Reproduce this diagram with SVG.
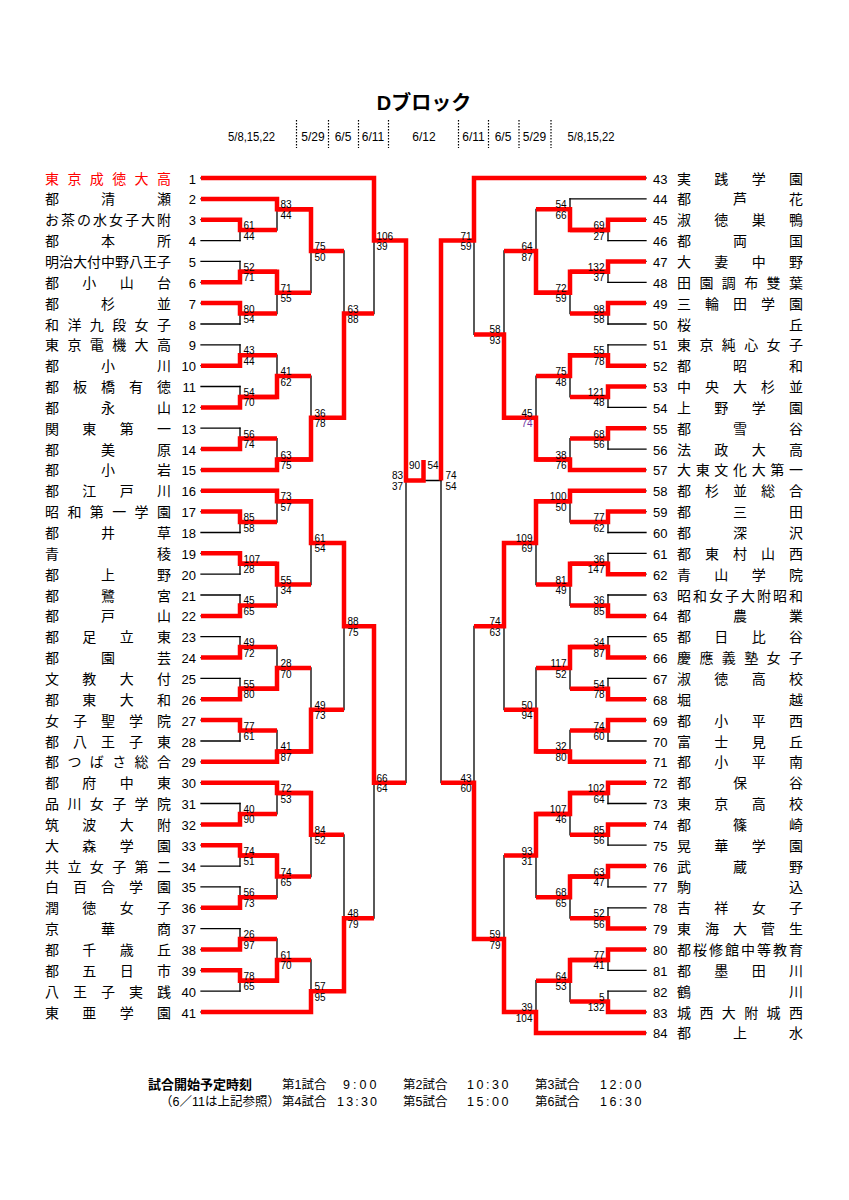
<svg xmlns="http://www.w3.org/2000/svg" width="849" height="1200" viewBox="0 0 849 1200">
<style>
.bg{fill:#fff}
.k{stroke:#000;stroke-width:1.3;fill:none;stroke-linecap:square}
.dot{stroke:#000;stroke-width:1.2;stroke-dasharray:1.5 1.5;fill:none}
.r{stroke:#f00;stroke-width:4.5;fill:none;stroke-linejoin:miter;stroke-linecap:butt}
.nm{font-family:"Noto Sans CJK JP","Noto Sans CJK SC",sans-serif;font-size:14px;fill:#000}
.red{fill:#f00}
.no{font-family:"Liberation Sans",Arial,sans-serif;font-size:13px;fill:#000}
.ln{text-anchor:end}
.sc{font-family:"Liberation Sans",Arial,sans-serif;font-size:10px;fill:#000}
.e{text-anchor:end}
.pu{fill:#7030a0}
.ttl{font-family:"Liberation Sans","Noto Sans CJK JP",sans-serif;font-size:20px;font-weight:bold;text-anchor:middle}
.dt{font-family:"Liberation Sans",Arial,sans-serif;font-size:12px;text-anchor:middle}
.ft{font-family:"Liberation Sans","Noto Sans CJK JP",sans-serif;font-size:12.5px}
.fb{font-weight:bold;font-size:13px}
</style>
<rect class="bg" x="0" y="0" width="849" height="1200"/>
<g id="header">
<text class="ttl" x="424" y="110">Dブロック</text>
<text class="dt" x="251.5" y="141" textLength="47" lengthAdjust="spacingAndGlyphs">5/8,15,22</text>
<text class="dt" x="313" y="141">5/29</text>
<text class="dt" x="343" y="141">6/5</text>
<text class="dt" x="373" y="141">6/11</text>
<text class="dt" x="424" y="141">6/12</text>
<text class="dt" x="473.5" y="141">6/11</text>
<text class="dt" x="503" y="141">6/5</text>
<text class="dt" x="534.5" y="141">5/29</text>
<text class="dt" x="591" y="141" textLength="47" lengthAdjust="spacingAndGlyphs">5/8,15,22</text>
<path class="dot" d="M296.5,120V148M328.5,120V148M358.5,120V148M388.5,120V148M458.5,120V148M488.5,120V148M519,120V148M551,120V148"/>
</g>
<g id="connectors">
<path class="k" d="M201,178H374M201,198.9H277M201,219.7H240M201,240.6H240M201,261.4H240M201,282.3H240M201,303.1H240M201,324H240M201,344.8H240M201,365.7H240M201,386.5H240M201,407.4H240M201,428.2H240M201,449.1H240M201,469.9H277M201,490.8H277M201,511.6H240M201,532.5H240M201,553.3H240M201,574.2H240M201,595H240M201,615.9H240M201,636.7H240M201,657.6H240M201,678.4H240M201,699.3H240M201,720.1H240M201,741H240M201,761.8H277M201,782.7H277M201,803.5H240M201,824.4H240M201,845.2H240M201,866.1H240M201,886.9H240M201,907.8H240M201,928.6H240M201,949.5H240M201,970.3H240M201,991.2H240M201,1012H311"/>
<path class="k" d="M240,219.7V240.6M240,261.4V282.3M240,303.1V324M240,344.8V365.7M240,386.5V407.4M240,428.2V449.1M240,511.6V532.5M240,553.3V574.2M240,595V615.9M240,636.7V657.6M240,678.4V699.3M240,720.1V741M240,803.5V824.4M240,845.2V866.1M240,886.9V907.8M240,928.6V949.5M240,970.3V991.2M277,198.9V230.1M277,271.8V313.5M277,355.2V396.9M277,438.6V469.9M277,490.8V522M277,563.7V605.4M277,647.1V688.8M277,730.5V761.8M277,782.7V813.9M277,855.6V897.3M277,939V980.7M311,209.3V292.7M311,376.1V459.5M311,501.2V584.6M311,668V751.4M311,793.1V876.5M311,959.9V1012M344,251V417.8M344,542.9V709.7M344,834.8V991.2M374,178V313.5M374,626.3V918.2M406,240.6V782.7M406,480.5H441"/>
<path class="k" d="M646,178H474M646,198.9H570M646,219.7H608M646,240.6H608M646,261.4H608M646,282.3H608M646,303.1H608M646,324H608M646,344.8H608M646,365.7H608M646,386.5H608M646,407.4H608M646,428.2H608M646,449.1H608M646,469.9H570M646,490.8H570M646,511.6H608M646,532.5H608M646,553.3H608M646,574.2H608M646,595H608M646,615.9H608M646,636.7H608M646,657.6H608M646,678.4H608M646,699.3H608M646,720.1H608M646,741H608M646,761.8H570M646,782.7H608M646,803.5H608M646,824.4H608M646,845.2H608M646,866.1H608M646,886.9H608M646,907.8H608M646,928.6H608M646,949.5H608M646,970.3H608M646,991.2H608M646,1012H608M646,1032.9H536"/>
<path class="k" d="M608,219.7V240.6M608,261.4V282.3M608,303.1V324M608,344.8V365.7M608,386.5V407.4M608,428.2V449.1M608,511.6V532.5M608,553.3V574.2M608,595V615.9M608,636.7V657.6M608,678.4V699.3M608,720.1V741M608,782.7V803.5M608,824.4V845.2M608,866.1V886.9M608,907.8V928.6M608,949.5V970.3M608,991.2V1012M570,198.9V230.1M570,271.8V313.5M570,355.2V396.9M570,438.6V469.9M570,490.8V522M570,563.7V605.4M570,647.1V688.8M570,730.5V761.8M570,793.1V834.8M570,876.5V918.2M570,959.9V1001.6M536,209.3V292.7M536,376.1V459.5M536,501.2V584.6M536,668V751.4M536,813.9V897.3M536,980.7V1032.9M504,251V417.8M504,542.9V709.7M504,855.6V1012M474,178V334.4M474,626.3V939M441,240.6V782.7"/>
<path class="r" d="M201,219.7H240V230.1H277M201,282.3H240V271.8H277M201,303.1H240V313.5H277M201,365.7H240V355.2H277M201,407.4H240V396.9H277M201,449.1H240V438.6H277M201,511.6H240V522H277M201,553.3H240V563.7H277M201,615.9H240V605.4H277M201,657.6H240V647.1H277M201,699.3H240V688.8H277M201,720.1H240V730.5H277M201,824.4H240V813.9H277M201,845.2H240V855.6H277M201,907.8H240V897.3H277M201,949.5H240V939H277M201,970.3H240V980.7H277"/>
<path class="r" d="M201,198.9H277V209.3H311M240,271.8H277V292.7H311M240,396.9H277V376.1H311M201,469.9H277V459.5H311M201,490.8H277V501.2H311M240,563.7H277V584.6H311M240,688.8H277V668H311M201,761.8H277V751.4H311M201,782.7H277V793.1H311M240,855.6H277V876.5H311M240,980.7H277V959.9H311"/>
<path class="r" d="M277,209.3H311V251H344M277,459.5H311V417.8H344M277,501.2H311V542.9H344M277,751.4H311V709.7H344M277,793.1H311V834.8H344M201,1012H311V991.2H344M311,417.8H344V313.5H374M311,542.9H344V626.3H374M311,991.2H344V918.2H374M201,178H374V240.6H406M344,626.3H374V782.7H406M374,240.6H406V480.5H423.5V460"/>
<path class="r" d="M646,219.7H608V230.1H570M646,261.4H608V271.8H570M646,303.1H608V313.5H570M646,365.7H608V355.2H570M646,386.5H608V396.9H570M646,428.2H608V438.6H570M646,511.6H608V522H570M646,574.2H608V563.7H570M646,615.9H608V605.4H570M646,657.6H608V647.1H570M646,699.3H608V688.8H570M646,720.1H608V730.5H570M646,782.7H608V793.1H570M646,824.4H608V834.8H570M646,866.1H608V876.5H570M646,928.6H608V918.2H570M646,949.5H608V959.9H570M646,1012H608V1001.6H570"/>
<path class="r" d="M608,230.1H570V209.3H536M608,271.8H570V292.7H536M608,355.2H570V376.1H536M646,469.9H570V459.5H536M646,490.8H570V501.2H536M608,563.7H570V584.6H536M608,647.1H570V668H536M646,761.8H570V751.4H536M608,793.1H570V813.9H536M608,876.5H570V897.3H536M608,959.9H570V980.7H536"/>
<path class="r" d="M570,292.7H536V251H504M570,459.5H536V417.8H504M570,501.2H536V542.9H504M570,751.4H536V709.7H504M570,813.9H536V855.6H504M646,1032.9H536V1012H504M536,417.8H504V334.4H474M536,542.9H504V626.3H474M536,1012H504V939H474M646,178H474V240.6H441M504,939H474V782.7H441M474,240.6H441V480.5"/>
</g>
<g id="scores" class="sc">
<text x="243.5" y="229.1">61</text><text x="243.5" y="239.6">44</text>
<text x="243.5" y="270.8">52</text><text x="243.5" y="281.3">71</text>
<text x="243.5" y="312.5">80</text><text x="243.5" y="323">54</text>
<text x="243.5" y="354.2">43</text><text x="243.5" y="364.7">44</text>
<text x="243.5" y="395.9">54</text><text x="243.5" y="406.4">70</text>
<text x="243.5" y="437.6">56</text><text x="243.5" y="448.1">74</text>
<text x="243.5" y="521">85</text><text x="243.5" y="531.5">58</text>
<text x="243.5" y="562.7">107</text><text x="243.5" y="573.2">28</text>
<text x="243.5" y="604.4">45</text><text x="243.5" y="614.9">65</text>
<text x="243.5" y="646.1">49</text><text x="243.5" y="656.6">72</text>
<text x="243.5" y="687.8">55</text><text x="243.5" y="698.3">80</text>
<text x="243.5" y="729.5">77</text><text x="243.5" y="740">61</text>
<text x="243.5" y="812.9">40</text><text x="243.5" y="823.4">90</text>
<text x="243.5" y="854.6">74</text><text x="243.5" y="865.1">51</text>
<text x="243.5" y="896.3">56</text><text x="243.5" y="906.8">73</text>
<text x="243.5" y="938">26</text><text x="243.5" y="948.5">97</text>
<text x="243.5" y="979.7">78</text><text x="243.5" y="990.2">65</text>
<text x="280.5" y="208.3">83</text><text x="280.5" y="218.8">44</text>
<text x="280.5" y="291.7">71</text><text x="280.5" y="302.2">55</text>
<text x="280.5" y="375.1">41</text><text x="280.5" y="385.6">62</text>
<text x="280.5" y="458.5">63</text><text x="280.5" y="469">75</text>
<text x="280.5" y="500.2">73</text><text x="280.5" y="510.7">57</text>
<text x="280.5" y="583.6">55</text><text x="280.5" y="594.1">34</text>
<text x="280.5" y="667">28</text><text x="280.5" y="677.5">70</text>
<text x="280.5" y="750.4">41</text><text x="280.5" y="760.9">87</text>
<text x="280.5" y="792.1">72</text><text x="280.5" y="802.6">53</text>
<text x="280.5" y="875.5">74</text><text x="280.5" y="886">65</text>
<text x="280.5" y="958.9">61</text><text x="280.5" y="969.4">70</text>
<text x="314.5" y="250">75</text><text x="314.5" y="260.5">50</text>
<text x="314.5" y="416.8">36</text><text x="314.5" y="427.3">78</text>
<text x="314.5" y="541.9">61</text><text x="314.5" y="552.4">54</text>
<text x="314.5" y="708.7">49</text><text x="314.5" y="719.2">73</text>
<text x="314.5" y="833.8">84</text><text x="314.5" y="844.3">52</text>
<text x="314.5" y="990.2">57</text><text x="314.5" y="1000.7">95</text>
<text x="347.5" y="312.5">63</text><text x="347.5" y="323">88</text>
<text x="347.5" y="625.3">88</text><text x="347.5" y="635.8">75</text>
<text x="347.5" y="917.2">48</text><text x="347.5" y="927.7">79</text>
<text x="376.5" y="239.6">106</text><text x="376.5" y="250.1">39</text>
<text x="376.5" y="781.7">66</text><text x="376.5" y="792.2">64</text>
<text class="e" x="403" y="479">83</text><text class="e" x="403" y="490">37</text>
<text class="e" x="420" y="468.5">90</text><text x="427.5" y="468.5">54</text>
<text x="445.5" y="479">74</text><text x="445.5" y="490">54</text>
<g class="e">
<text x="604.5" y="229.1">69</text><text x="604.5" y="239.6">27</text>
<text x="604.5" y="270.8">132</text><text x="604.5" y="281.3">37</text>
<text x="604.5" y="312.5">98</text><text x="604.5" y="323">58</text>
<text x="604.5" y="354.2">55</text><text x="604.5" y="364.7">78</text>
<text x="604.5" y="395.9">121</text><text x="604.5" y="406.4">48</text>
<text x="604.5" y="437.6">68</text><text x="604.5" y="448.1">56</text>
<text x="604.5" y="521">77</text><text x="604.5" y="531.5">62</text>
<text x="604.5" y="562.7">36</text><text x="604.5" y="573.2">147</text>
<text x="604.5" y="604.4">36</text><text x="604.5" y="614.9">85</text>
<text x="604.5" y="646.1">34</text><text x="604.5" y="656.6">87</text>
<text x="604.5" y="687.8">54</text><text x="604.5" y="698.3">78</text>
<text x="604.5" y="729.5">74</text><text x="604.5" y="740">60</text>
<text x="604.5" y="792.1">102</text><text x="604.5" y="802.6">64</text>
<text x="604.5" y="833.8">85</text><text x="604.5" y="844.3">56</text>
<text x="604.5" y="875.5">63</text><text x="604.5" y="886">47</text>
<text x="604.5" y="917.2">52</text><text x="604.5" y="927.7">56</text>
<text x="604.5" y="958.9">77</text><text x="604.5" y="969.4">41</text>
<text x="604.5" y="1000.6">5</text><text x="604.5" y="1011.1">132</text>
<text x="566.5" y="208.3">54</text><text x="566.5" y="218.8">66</text>
<text x="566.5" y="291.7">72</text><text x="566.5" y="302.2">59</text>
<text x="566.5" y="375.1">75</text><text x="566.5" y="385.6">48</text>
<text x="566.5" y="458.5">38</text><text x="566.5" y="469">76</text>
<text x="566.5" y="500.2">100</text><text x="566.5" y="510.7">50</text>
<text x="566.5" y="583.6">81</text><text x="566.5" y="594.1">49</text>
<text x="566.5" y="667">117</text><text x="566.5" y="677.5">52</text>
<text x="566.5" y="750.4">32</text><text x="566.5" y="760.9">80</text>
<text x="566.5" y="812.9">107</text><text x="566.5" y="823.4">46</text>
<text x="566.5" y="896.3">68</text><text x="566.5" y="906.8">65</text>
<text x="566.5" y="979.7">64</text><text x="566.5" y="990.2">53</text>
<text x="532.5" y="250">64</text><text x="532.5" y="260.5">87</text>
<text x="532.5" y="416.8">45</text><text class="pu" x="532.5" y="427.3">74</text>
<text x="532.5" y="541.9">109</text><text x="532.5" y="552.4">69</text>
<text x="532.5" y="708.7">50</text><text x="532.5" y="719.2">94</text>
<text x="532.5" y="854.6">93</text><text x="532.5" y="865.1">31</text>
<text x="532.5" y="1011">39</text><text x="532.5" y="1021.5">104</text>
<text x="500.5" y="333.4">58</text><text x="500.5" y="343.9">93</text>
<text x="500.5" y="625.3">74</text><text x="500.5" y="635.8">63</text>
<text x="500.5" y="938">59</text><text x="500.5" y="948.5">79</text>
<text x="471.5" y="239.6">71</text><text x="471.5" y="250.1">59</text>
<text x="471.5" y="781.7">43</text><text x="471.5" y="792.2">60</text>
</g>
</g>
<g id="teams-left">
<g id="t1"><text class="no ln" x="196" y="183.5">1</text><text class="nm red" x="45 67.4 89.8 112.2 134.6 157" y="183.5">東京成徳大高</text></g>
<g id="t2"><text class="no ln" x="196" y="204.4">2</text><text class="nm" x="45 101 157" y="204.4">都清瀬</text></g>
<g id="t3"><text class="no ln" x="196" y="225.2">3</text><text class="nm" x="45 61 77 93 109 125 141 157" y="225.2">お茶の水女子大附</text></g>
<g id="t4"><text class="no ln" x="196" y="246.1">4</text><text class="nm" x="45 101 157" y="246.1">都本所</text></g>
<g id="t5"><text class="no ln" x="196" y="266.9">5</text><text class="nm" x="45 59 73 87 101 115 129 143 157" y="266.9">明治大付中野八王子</text></g>
<g id="t6"><text class="no ln" x="196" y="287.8">6</text><text class="nm" x="45 82.3 119.7 157" y="287.8">都小山台</text></g>
<g id="t7"><text class="no ln" x="196" y="308.6">7</text><text class="nm" x="45 101 157" y="308.6">都杉並</text></g>
<g id="t8"><text class="no ln" x="196" y="329.5">8</text><text class="nm" x="45 67.4 89.8 112.2 134.6 157" y="329.5">和洋九段女子</text></g>
<g id="t9"><text class="no ln" x="196" y="350.3">9</text><text class="nm" x="45 67.4 89.8 112.2 134.6 157" y="350.3">東京電機大高</text></g>
<g id="t10"><text class="no ln" x="196" y="371.2">10</text><text class="nm" x="45 101 157" y="371.2">都小川</text></g>
<g id="t11"><text class="no ln" x="196" y="392">11</text><text class="nm" x="45 73 101 129 157" y="392">都板橋有徳</text></g>
<g id="t12"><text class="no ln" x="196" y="412.9">12</text><text class="nm" x="45 101 157" y="412.9">都永山</text></g>
<g id="t13"><text class="no ln" x="196" y="433.7">13</text><text class="nm" x="45 82.3 119.7 157" y="433.7">関東第一</text></g>
<g id="t14"><text class="no ln" x="196" y="454.6">14</text><text class="nm" x="45 101 157" y="454.6">都美原</text></g>
<g id="t15"><text class="no ln" x="196" y="475.4">15</text><text class="nm" x="45 101 157" y="475.4">都小岩</text></g>
<g id="t16"><text class="no ln" x="196" y="496.3">16</text><text class="nm" x="45 82.3 119.7 157" y="496.3">都江戸川</text></g>
<g id="t17"><text class="no ln" x="196" y="517.1">17</text><text class="nm" x="45 67.4 89.8 112.2 134.6 157" y="517.1">昭和第一学園</text></g>
<g id="t18"><text class="no ln" x="196" y="538">18</text><text class="nm" x="45 101 157" y="538">都井草</text></g>
<g id="t19"><text class="no ln" x="196" y="558.8">19</text><text class="nm" x="45 157" y="558.8">青稜</text></g>
<g id="t20"><text class="no ln" x="196" y="579.7">20</text><text class="nm" x="45 101 157" y="579.7">都上野</text></g>
<g id="t21"><text class="no ln" x="196" y="600.5">21</text><text class="nm" x="45 101 157" y="600.5">都鷺宮</text></g>
<g id="t22"><text class="no ln" x="196" y="621.4">22</text><text class="nm" x="45 101 157" y="621.4">都戸山</text></g>
<g id="t23"><text class="no ln" x="196" y="642.2">23</text><text class="nm" x="45 82.3 119.7 157" y="642.2">都足立東</text></g>
<g id="t24"><text class="no ln" x="196" y="663.1">24</text><text class="nm" x="45 101 157" y="663.1">都園芸</text></g>
<g id="t25"><text class="no ln" x="196" y="683.9">25</text><text class="nm" x="45 82.3 119.7 157" y="683.9">文教大付</text></g>
<g id="t26"><text class="no ln" x="196" y="704.8">26</text><text class="nm" x="45 82.3 119.7 157" y="704.8">都東大和</text></g>
<g id="t27"><text class="no ln" x="196" y="725.6">27</text><text class="nm" x="45 73 101 129 157" y="725.6">女子聖学院</text></g>
<g id="t28"><text class="no ln" x="196" y="746.5">28</text><text class="nm" x="45 73 101 129 157" y="746.5">都八王子東</text></g>
<g id="t29"><text class="no ln" x="196" y="767.3">29</text><text class="nm" x="45 67.4 89.8 112.2 134.6 157" y="767.3">都つばさ総合</text></g>
<g id="t30"><text class="no ln" x="196" y="788.2">30</text><text class="nm" x="45 82.3 119.7 157" y="788.2">都府中東</text></g>
<g id="t31"><text class="no ln" x="196" y="809">31</text><text class="nm" x="45 67.4 89.8 112.2 134.6 157" y="809">品川女子学院</text></g>
<g id="t32"><text class="no ln" x="196" y="829.9">32</text><text class="nm" x="45 82.3 119.7 157" y="829.9">筑波大附</text></g>
<g id="t33"><text class="no ln" x="196" y="850.7">33</text><text class="nm" x="45 82.3 119.7 157" y="850.7">大森学園</text></g>
<g id="t34"><text class="no ln" x="196" y="871.6">34</text><text class="nm" x="45 67.4 89.8 112.2 134.6 157" y="871.6">共立女子第二</text></g>
<g id="t35"><text class="no ln" x="196" y="892.4">35</text><text class="nm" x="45 73 101 129 157" y="892.4">白百合学園</text></g>
<g id="t36"><text class="no ln" x="196" y="913.3">36</text><text class="nm" x="45 82.3 119.7 157" y="913.3">潤徳女子</text></g>
<g id="t37"><text class="no ln" x="196" y="934.1">37</text><text class="nm" x="45 101 157" y="934.1">京華商</text></g>
<g id="t38"><text class="no ln" x="196" y="955">38</text><text class="nm" x="45 82.3 119.7 157" y="955">都千歳丘</text></g>
<g id="t39"><text class="no ln" x="196" y="975.8">39</text><text class="nm" x="45 82.3 119.7 157" y="975.8">都五日市</text></g>
<g id="t40"><text class="no ln" x="196" y="996.7">40</text><text class="nm" x="45 73 101 129 157" y="996.7">八王子実践</text></g>
<g id="t41"><text class="no ln" x="196" y="1017.5">41</text><text class="nm" x="45 82.3 119.7 157" y="1017.5">東亜学園</text></g>
</g>
<g id="teams-right">
<g id="t43"><text class="no" x="653" y="183.5">43</text><text class="nm" x="677 714.3 751.7 789" y="183.5">実践学園</text></g>
<g id="t44"><text class="no" x="653" y="204.4">44</text><text class="nm" x="677 733 789" y="204.4">都芦花</text></g>
<g id="t45"><text class="no" x="653" y="225.2">45</text><text class="nm" x="677 714.3 751.7 789" y="225.2">淑徳巣鴨</text></g>
<g id="t46"><text class="no" x="653" y="246.1">46</text><text class="nm" x="677 733 789" y="246.1">都両国</text></g>
<g id="t47"><text class="no" x="653" y="266.9">47</text><text class="nm" x="677 714.3 751.7 789" y="266.9">大妻中野</text></g>
<g id="t48"><text class="no" x="653" y="287.8">48</text><text class="nm" x="677 699.4 721.8 744.2 766.6 789" y="287.8">田園調布雙葉</text></g>
<g id="t49"><text class="no" x="653" y="308.6">49</text><text class="nm" x="677 705 733 761 789" y="308.6">三輪田学園</text></g>
<g id="t50"><text class="no" x="653" y="329.5">50</text><text class="nm" x="677 789" y="329.5">桜丘</text></g>
<g id="t51"><text class="no" x="653" y="350.3">51</text><text class="nm" x="677 699.4 721.8 744.2 766.6 789" y="350.3">東京純心女子</text></g>
<g id="t52"><text class="no" x="653" y="371.2">52</text><text class="nm" x="677 733 789" y="371.2">都昭和</text></g>
<g id="t53"><text class="no" x="653" y="392">53</text><text class="nm" x="677 705 733 761 789" y="392">中央大杉並</text></g>
<g id="t54"><text class="no" x="653" y="412.9">54</text><text class="nm" x="677 714.3 751.7 789" y="412.9">上野学園</text></g>
<g id="t55"><text class="no" x="653" y="433.7">55</text><text class="nm" x="677 733 789" y="433.7">都雪谷</text></g>
<g id="t56"><text class="no" x="653" y="454.6">56</text><text class="nm" x="677 714.3 751.7 789" y="454.6">法政大高</text></g>
<g id="t57"><text class="no" x="653" y="475.4">57</text><text class="nm" x="677 695.7 714.3 733 751.7 770.3 789" y="475.4">大東文化大第一</text></g>
<g id="t58"><text class="no" x="653" y="496.3">58</text><text class="nm" x="677 705 733 761 789" y="496.3">都杉並総合</text></g>
<g id="t59"><text class="no" x="653" y="517.1">59</text><text class="nm" x="677 733 789" y="517.1">都三田</text></g>
<g id="t60"><text class="no" x="653" y="538">60</text><text class="nm" x="677 733 789" y="538">都深沢</text></g>
<g id="t61"><text class="no" x="653" y="558.8">61</text><text class="nm" x="677 705 733 761 789" y="558.8">都東村山西</text></g>
<g id="t62"><text class="no" x="653" y="579.7">62</text><text class="nm" x="677 714.3 751.7 789" y="579.7">青山学院</text></g>
<g id="t63"><text class="no" x="653" y="600.5">63</text><text class="nm" x="677 693 709 725 741 757 773 789" y="600.5">昭和女子大附昭和</text></g>
<g id="t64"><text class="no" x="653" y="621.4">64</text><text class="nm" x="677 733 789" y="621.4">都農業</text></g>
<g id="t65"><text class="no" x="653" y="642.2">65</text><text class="nm" x="677 714.3 751.7 789" y="642.2">都日比谷</text></g>
<g id="t66"><text class="no" x="653" y="663.1">66</text><text class="nm" x="677 699.4 721.8 744.2 766.6 789" y="663.1">慶應義塾女子</text></g>
<g id="t67"><text class="no" x="653" y="683.9">67</text><text class="nm" x="677 714.3 751.7 789" y="683.9">淑徳高校</text></g>
<g id="t68"><text class="no" x="653" y="704.8">68</text><text class="nm" x="677 789" y="704.8">堀越</text></g>
<g id="t69"><text class="no" x="653" y="725.6">69</text><text class="nm" x="677 714.3 751.7 789" y="725.6">都小平西</text></g>
<g id="t70"><text class="no" x="653" y="746.5">70</text><text class="nm" x="677 714.3 751.7 789" y="746.5">富士見丘</text></g>
<g id="t71"><text class="no" x="653" y="767.3">71</text><text class="nm" x="677 714.3 751.7 789" y="767.3">都小平南</text></g>
<g id="t72"><text class="no" x="653" y="788.2">72</text><text class="nm" x="677 733 789" y="788.2">都保谷</text></g>
<g id="t73"><text class="no" x="653" y="809">73</text><text class="nm" x="677 714.3 751.7 789" y="809">東京高校</text></g>
<g id="t74"><text class="no" x="653" y="829.9">74</text><text class="nm" x="677 733 789" y="829.9">都篠崎</text></g>
<g id="t75"><text class="no" x="653" y="850.7">75</text><text class="nm" x="677 714.3 751.7 789" y="850.7">晃華学園</text></g>
<g id="t76"><text class="no" x="653" y="871.6">76</text><text class="nm" x="677 733 789" y="871.6">武蔵野</text></g>
<g id="t77"><text class="no" x="653" y="892.4">77</text><text class="nm" x="677 789" y="892.4">駒込</text></g>
<g id="t78"><text class="no" x="653" y="913.3">78</text><text class="nm" x="677 714.3 751.7 789" y="913.3">吉祥女子</text></g>
<g id="t79"><text class="no" x="653" y="934.1">79</text><text class="nm" x="677 705 733 761 789" y="934.1">東海大菅生</text></g>
<g id="t80"><text class="no" x="653" y="955">80</text><text class="nm" x="677 693 709 725 741 757 773 789" y="955">都桜修館中等教育</text></g>
<g id="t81"><text class="no" x="653" y="975.8">81</text><text class="nm" x="677 714.3 751.7 789" y="975.8">都墨田川</text></g>
<g id="t82"><text class="no" x="653" y="996.7">82</text><text class="nm" x="677 789" y="996.7">鶴川</text></g>
<g id="t83"><text class="no" x="653" y="1017.5">83</text><text class="nm" x="677 699.4 721.8 744.2 766.6 789" y="1017.5">城西大附城西</text></g>
<g id="t84"><text class="no" x="653" y="1038.4">84</text><text class="nm" x="677 733 789" y="1038.4">都上水</text></g>
</g>
<g id="footer" class="ft">
<text class="fb" x="148" y="1089">試合開始予定時刻</text>
<text x="282" y="1089">第1試合</text><text x="343" y="1089" textLength="33.5" lengthAdjust="spacing">9:00</text>
<text x="403" y="1089">第2試合</text><text x="467" y="1089" textLength="41.5" lengthAdjust="spacing">10:30</text>
<text x="535" y="1089">第3試合</text><text x="600" y="1089" textLength="41.5" lengthAdjust="spacing">12:00</text>
<text x="280" y="1106" text-anchor="end">（6／11は上記参照）</text>
<text x="282" y="1106">第4試合</text><text x="337" y="1106" textLength="40" lengthAdjust="spacing">13:30</text>
<text x="403" y="1106">第5試合</text><text x="467" y="1106" textLength="41.5" lengthAdjust="spacing">15:00</text>
<text x="535" y="1106">第6試合</text><text x="600" y="1106" textLength="41.5" lengthAdjust="spacing">16:30</text>
</g>
</svg>
